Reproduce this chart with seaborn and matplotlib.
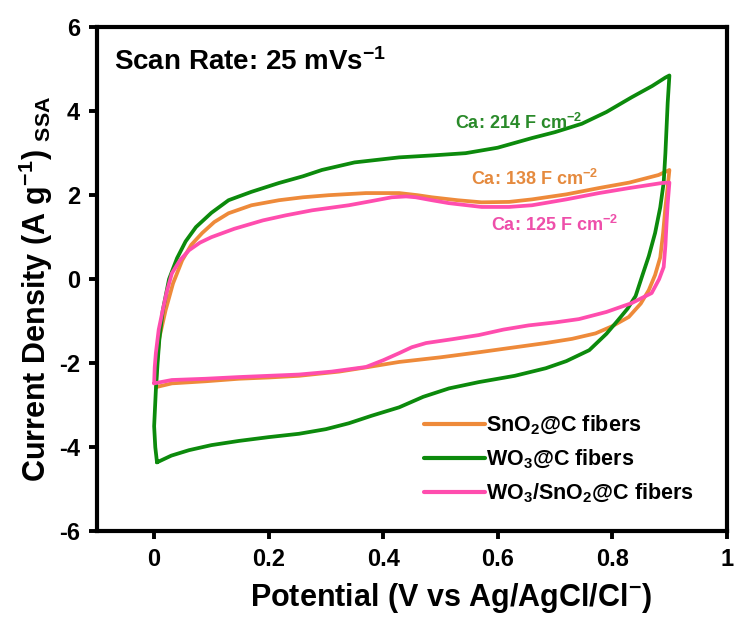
import matplotlib
matplotlib.use("Agg")
import matplotlib.pyplot as plt
import seaborn as sns
import pandas as pd

# Cyclic voltammetry loops (potential in V, current density in A/g)
sno2_potential = [0.003, 0.005, 0.009, 0.02, 0.033, 0.049, 0.065, 0.084, 0.105, 0.13, 0.17,
                  0.218, 0.26, 0.305, 0.37, 0.428, 0.46, 0.485, 0.53, 0.572, 0.62, 0.66,
                  0.72, 0.777, 0.83, 0.881, 0.90,
                  0.897, 0.893, 0.889, 0.884, 0.875, 0.864, 0.85, 0.829, 0.80, 0.771, 0.73,
                  0.684, 0.62, 0.567, 0.50, 0.428, 0.37, 0.323, 0.253, 0.20, 0.148, 0.09,
                  0.031, 0.003]
sno2_current = [-2.57, -2.0, -1.4, -0.74, -0.1, 0.45, 0.82, 1.1, 1.36, 1.57, 1.76,
                1.88, 1.95, 2.0, 2.05, 2.05, 2.0, 1.95, 1.88, 1.83, 1.84, 1.9,
                2.02, 2.17, 2.3, 2.48, 2.6,
                2.2, 1.71, 1.1, 0.52, 0.1, -0.26, -0.58, -0.9, -1.12, -1.29, -1.42,
                -1.52, -1.64, -1.74, -1.86, -1.97, -2.1, -2.2, -2.3, -2.34, -2.37, -2.43,
                -2.48, -2.57]

wo3_potential = [0.005, 0.002, 0.0, 0.003, 0.006, 0.009, 0.015, 0.026, 0.04, 0.055, 0.073,
                 0.10, 0.13, 0.17, 0.218, 0.26, 0.293, 0.35, 0.428, 0.49, 0.544, 0.60,
                 0.66, 0.70, 0.747, 0.79, 0.834, 0.87, 0.893, 0.90,
                 0.897, 0.895, 0.893, 0.89, 0.884, 0.875, 0.864, 0.853, 0.841, 0.827, 0.81,
                 0.79, 0.76, 0.72, 0.684, 0.63, 0.567, 0.515, 0.47, 0.428, 0.38, 0.34,
                 0.30, 0.253, 0.20, 0.148, 0.10, 0.061, 0.03, 0.005]
wo3_current = [-4.36, -4.0, -3.5, -2.64, -2.0, -1.45, -0.75, 0.0, 0.5, 0.9, 1.24,
               1.58, 1.88, 2.08, 2.29, 2.45, 2.6, 2.78, 2.9, 2.95, 3.0, 3.13,
               3.36, 3.5, 3.7, 3.98, 4.33, 4.6, 4.8, 4.85,
               4.2, 3.6, 3.0, 2.3, 1.71, 1.1, 0.55, 0.1, -0.4, -0.7, -0.98,
               -1.3, -1.69, -1.95, -2.12, -2.3, -2.45, -2.6, -2.8, -3.05, -3.25, -3.43,
               -3.57, -3.68, -3.76, -3.85, -3.95, -4.07, -4.2, -4.36]

wo3sno2_potential = [0.0, 0.001, 0.003, 0.008, 0.015, 0.022, 0.031, 0.045, 0.061, 0.08, 0.10,
                     0.14, 0.19, 0.23, 0.276, 0.34, 0.38, 0.415, 0.44, 0.457, 0.485, 0.515,
                     0.572, 0.62, 0.66, 0.72, 0.777, 0.83, 0.887, 0.90,
                     0.897, 0.895, 0.893, 0.89, 0.882, 0.869, 0.834, 0.79, 0.742, 0.70, 0.654,
                     0.61, 0.567, 0.52, 0.475, 0.45, 0.428, 0.40, 0.37, 0.31, 0.253, 0.20,
                     0.148, 0.09, 0.031, 0.0]
wo3sno2_current = [-2.48, -2.1, -1.76, -1.2, -0.74, -0.3, 0.14, 0.45, 0.69, 0.87, 1.0,
                   1.2, 1.4, 1.52, 1.64, 1.76, 1.86, 1.95, 1.97, 1.95, 1.88, 1.81,
                   1.72, 1.72, 1.76, 1.9, 2.05, 2.17, 2.29, 2.3,
                   1.8, 1.33, 0.8, 0.29, 0.0, -0.33, -0.57, -0.78, -0.95, -1.03, -1.1,
                   -1.2, -1.33, -1.43, -1.52, -1.62, -1.76, -1.93, -2.09, -2.2, -2.27, -2.3,
                   -2.33, -2.37, -2.4, -2.48]

series_labels = ["SnO$_2$@C fibers", "WO$_3$@C fibers", "WO$_3$/SnO$_2$@C fibers"]
series_colors = ["#EE8A3A", "#0C8A0C", "#FF4DAE"]
capacitance_labels = ["Ca: 138 F cm$^{-2}$", "Ca: 214 F cm$^{-2}$", "Ca: 125 F cm$^{-2}$"]
capacitance_colors = ["#E58A3E", "#2A8A2A", "#EE4FAA"]

x_ticks = [0, 0.2, 0.4, 0.6, 0.8, 1]
x_ticklabels = ["0", "0.2", "0.4", "0.6", "0.8", "1"]
y_ticks = [-6, -4, -2, 0, 2, 4, 6]

sns.set_style("ticks")
plt.rcParams["font.family"] = ["Liberation Sans", "DejaVu Sans"]
plt.rcParams["font.weight"] = "bold"
plt.rcParams["axes.unicode_minus"] = False
plt.rcParams["text.color"] = "black"
plt.rcParams["axes.labelcolor"] = "black"
plt.rcParams["xtick.color"] = "black"
plt.rcParams["ytick.color"] = "black"
plt.rcParams["axes.edgecolor"] = "black"
plt.rcParams["mathtext.fontset"] = "custom"
plt.rcParams["mathtext.rm"] = "Liberation Sans:bold"
plt.rcParams["mathtext.it"] = "Liberation Sans:bold"
plt.rcParams["mathtext.bf"] = "Liberation Sans:bold"
plt.rcParams["mathtext.sf"] = "Liberation Sans:bold"
plt.rcParams["mathtext.default"] = "rm"

frames = []
for label, xs, ys in zip(series_labels,
                         [sno2_potential, wo3_potential, wo3sno2_potential],
                         [sno2_current, wo3_current, wo3sno2_current]):
    frames.append(pd.DataFrame({"Potential": xs, "Current": ys, "Sample": label}))
df = pd.concat(frames, ignore_index=True)

fig = plt.figure(figsize=(7.34, 6.17), dpi=100)
ax = fig.add_axes([0.132, 0.139, 0.858, 0.817])

sns.lineplot(data=df, x="Potential", y="Current", hue="Sample", units="Sample",
             estimator=None, sort=False, palette=series_colors,
             hue_order=series_labels, linewidth=2.7, ax=ax, legend=True)

ax.set_xlim(-0.1, 1.0)
ax.set_ylim(-6, 6)
ax.set_xticks(x_ticks)
ax.set_xticklabels(x_ticklabels)
ax.set_yticks(y_ticks)
ax.tick_params(axis="both", direction="out", length=6, width=2.8, labelsize=17, pad=6,
               colors="black")
for lbl in ax.get_xticklabels() + ax.get_yticklabels():
    lbl.set_fontweight("bold")
for sp in ax.spines.values():
    sp.set_linewidth(3)
    sp.set_visible(True)
    sp.set_color("black")

ax.set_xlabel("Potential (V vs Ag/AgCl/Cl$^{-}$)", fontsize=22, fontweight="bold")
ax.set_ylabel("Current Density (A g$^{-1}$) $_{SSA}$", fontsize=22, fontweight="bold")
ax.xaxis.set_label_coords(0.563, -0.099)
ax.yaxis.set_label_coords(-0.066, 0.48)

ax.text(-0.07, 5.17, "Scan Rate: 25 mVs$^{-1}$", fontsize=20, fontweight="bold",
        ha="left", va="center", color="black")

cap_positions = [(0.665, 2.38), (0.637, 3.71), (0.70, 1.29)]
for (tx, ty), txt, col in zip(cap_positions, capacitance_labels, capacitance_colors):
    ax.text(tx, ty, txt, fontsize=13, fontweight="bold", color=col, ha="center", va="center")

leg = ax.legend(loc="upper left", bbox_to_anchor=(0.52, 0.232), frameon=False,
                handlelength=2.8, handletextpad=0.08, labelspacing=0.5,
                borderaxespad=0, borderpad=0, fontsize=15.5)
for line in leg.get_lines():
    line.set_linewidth(3)

fig.savefig("out.png", dpi=100)
